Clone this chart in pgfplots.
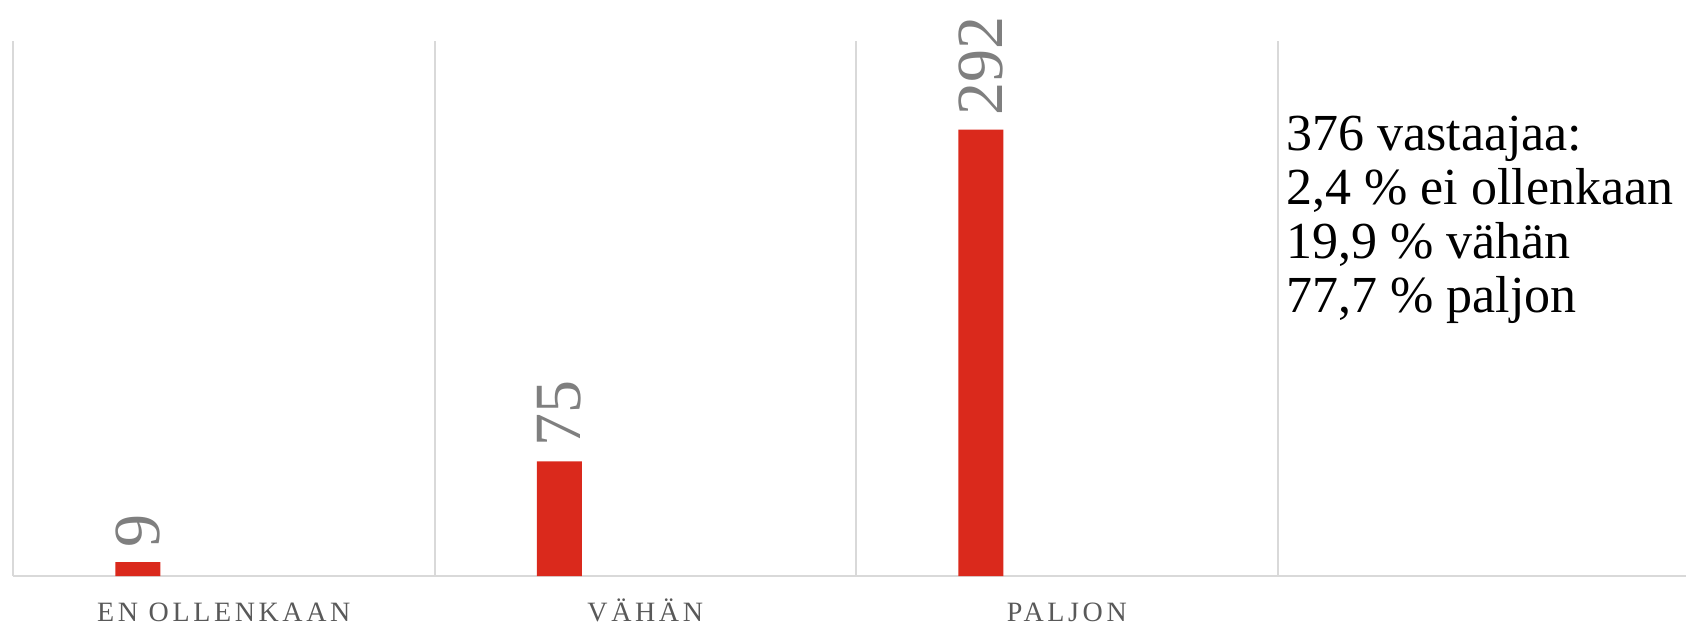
\documentclass[border=0pt]{standalone}
\usepackage{fontspec}
\setmainfont{Liberation Serif}
\usepackage{pgfplots}
\pgfplotsset{compat=1.18}
\definecolor{barred}{HTML}{DA291C}
\definecolor{gridgrey}{HTML}{D9D9D9}
\definecolor{lblgrey}{HTML}{7F7F7F}
\definecolor{catgrey}{HTML}{595959}
\begin{document}
\begin{tikzpicture}
\begin{axis}[
  name=ax,
  scale only axis,
  width=836.5pt, height=267.5pt,
  xmin=0, xmax=3.969, ymin=0, ymax=350,
  axis y line=none,
  axis x line*=bottom,
  x axis line style={gridgrey, line width=1pt, -},
  xtick={0.5,1.5,2.5},
  xticklabels={EN OLLENKAAN, VÄHÄN, PALJON},
  tick style={draw=none},
  minor xtick={0,1,2,3},
  xminorgrids,
  minor x grid style={gridgrey, line width=1pt},
  xticklabel style={font=\fontsize{14}{16}\selectfont\addfontfeatures{LetterSpace=13}, text=catgrey, anchor=base, inner sep=0pt, yshift=-18.5pt},
  ybar, bar width=22.5pt,
  nodes near coords,
  nodes near coords style={rotate=90, anchor=west, font=\fontsize{33}{36}\selectfont, text=lblgrey, inner sep=7pt},
  /pgf/number format/assume math mode=true,
  clip=false,
]
\addplot[fill=barred, draw=none] coordinates {(0.296,9) (1.296,75) (2.296,292)};
\node[anchor=north west, align=left, font=\fontsize{26}{27}\selectfont, inner sep=0pt] at (axis cs:3.02,301) {376 vastaajaa:\\2,4 \% ei ollenkaan\\19,9 \% vähän\\77,7 \% paljon};
\end{axis}
\pgfresetboundingbox
\path ([xshift=-6.5pt,yshift=-25pt]ax.south west) rectangle ([yshift=20.5pt]ax.north east);
\end{tikzpicture}
\end{document}
